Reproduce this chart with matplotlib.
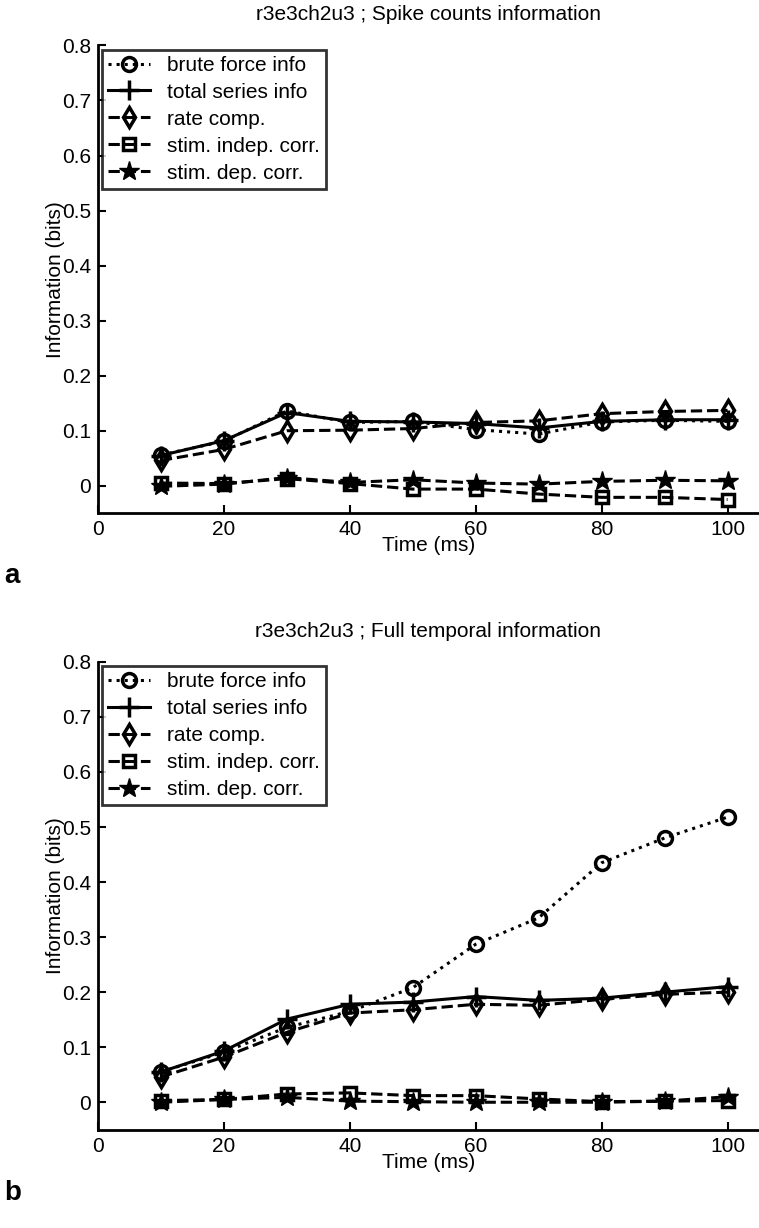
import matplotlib
matplotlib.use("Agg")
import matplotlib.pyplot as plt

plt.rcParams['font.family'] = ['Liberation Sans', 'DejaVu Sans']

time_ms = [10, 20, 30, 40, 50, 60, 70, 80, 90, 100]
labels = ["brute force info", "total series info", "rate comp.",
          "stim. indep. corr.", "stim. dep. corr."]

# panel a: spike counts
a_brute = [0.056, 0.081, 0.136, 0.115, 0.117, 0.102, 0.094, 0.116, 0.119, 0.117]
a_total = [0.055, 0.082, 0.133, 0.117, 0.116, 0.113, 0.105, 0.117, 0.120, 0.120]
a_rate = [0.046, 0.066, 0.100, 0.101, 0.104, 0.115, 0.118, 0.131, 0.135, 0.137]
a_indep = [0.005, 0.004, 0.013, 0.004, -0.006, -0.006, -0.015, -0.021, -0.021, -0.025]
a_dep = [-0.001, 0.003, 0.015, 0.006, 0.011, 0.005, 0.003, 0.008, 0.010, 0.009]

# panel b: full temporal
b_brute = [0.055, 0.091, 0.136, 0.165, 0.208, 0.287, 0.335, 0.435, 0.480, 0.518]
b_total = [0.055, 0.093, 0.151, 0.178, 0.182, 0.192, 0.185, 0.189, 0.200, 0.210]
b_rate = [0.046, 0.082, 0.127, 0.162, 0.168, 0.178, 0.176, 0.187, 0.196, 0.200]
b_indep = [0.003, 0.005, 0.015, 0.017, 0.012, 0.012, 0.006, 0.001, 0.002, 0.003]
b_dep = [0.000, 0.005, 0.009, 0.002, 0.001, 0.000, 0.000, 0.000, 0.002, 0.010]

titles = ["r3e3ch2u3 ; Spike counts information",
          "r3e3ch2u3 ; Full temporal information"]
panel_tags = ["a", "b"]
yticks = [0, 0.1, 0.2, 0.3, 0.4, 0.5, 0.6, 0.7, 0.8]
xticks = [0, 20, 40, 60, 80, 100]

fs = 15
fig = plt.figure(figsize=(7.59, 12.28), dpi=100)
positions = [[0.129, 0.582, 0.871, 0.381], [0.129, 0.080, 0.871, 0.381]]
panels = [(a_brute, a_total, a_rate, a_indep, a_dep),
          (b_brute, b_total, b_rate, b_indep, b_dep)]

for i, data in enumerate(panels):
    ax = fig.add_axes(positions[i])
    brute, total, rate, indep, dep = data
    kw = dict(color='black', linewidth=2.2, markersize=10, markeredgewidth=2.5)
    ax.plot(time_ms, brute, ':', marker='o', markerfacecolor='none', label=labels[0], **kw)
    ax.plot(time_ms, total, '-', marker='+', markersize=14, color='black',
            linewidth=2.2, markeredgewidth=2.5, label=labels[1])
    ax.plot(time_ms, rate, '--', marker='d', markerfacecolor='none', label=labels[2], **kw)
    ax.plot(time_ms, indep, '--', marker='s', markerfacecolor='none', markersize=8,
            color='black', linewidth=2.2, markeredgewidth=2.5, label=labels[3])
    ax.plot(time_ms, dep, '--', marker='*', markersize=15, color='black',
            linewidth=2.2, markeredgewidth=1, label=labels[4])

    ax.set_xlim(0, 105)
    ax.set_ylim(-0.05, 0.8)
    ax.set_xticks(xticks)
    ax.set_yticks(yticks)
    ax.set_yticklabels(["0"] + ["%.1f" % v for v in yticks[1:]])
    ax.tick_params(direction='in', labelsize=fs, width=1.5, length=6, pad=5)
    ax.spines['top'].set_visible(False)
    ax.spines['right'].set_visible(False)
    ax.spines['left'].set_linewidth(2)
    ax.spines['bottom'].set_linewidth(2)
    ax.set_xlabel("Time (ms)", fontsize=fs, labelpad=-2)
    ax.set_ylabel("Information (bits)", fontsize=fs, labelpad=-2)
    ax.set_title(titles[i], fontsize=fs, pad=18)

    leg = ax.legend(loc='upper left', fontsize=fs, frameon=True, fancybox=False,
                    borderaxespad=0.2, handlelength=2.0, handletextpad=0.8,
                    labelspacing=0.38, borderpad=0.3)
    leg.get_frame().set_edgecolor('black')
    leg.get_frame().set_linewidth(2)

    fig.text(0.005, positions[i][1] - 0.057, panel_tags[i], fontsize=20,
             fontweight='bold')

fig.savefig("out.png", dpi=100)
